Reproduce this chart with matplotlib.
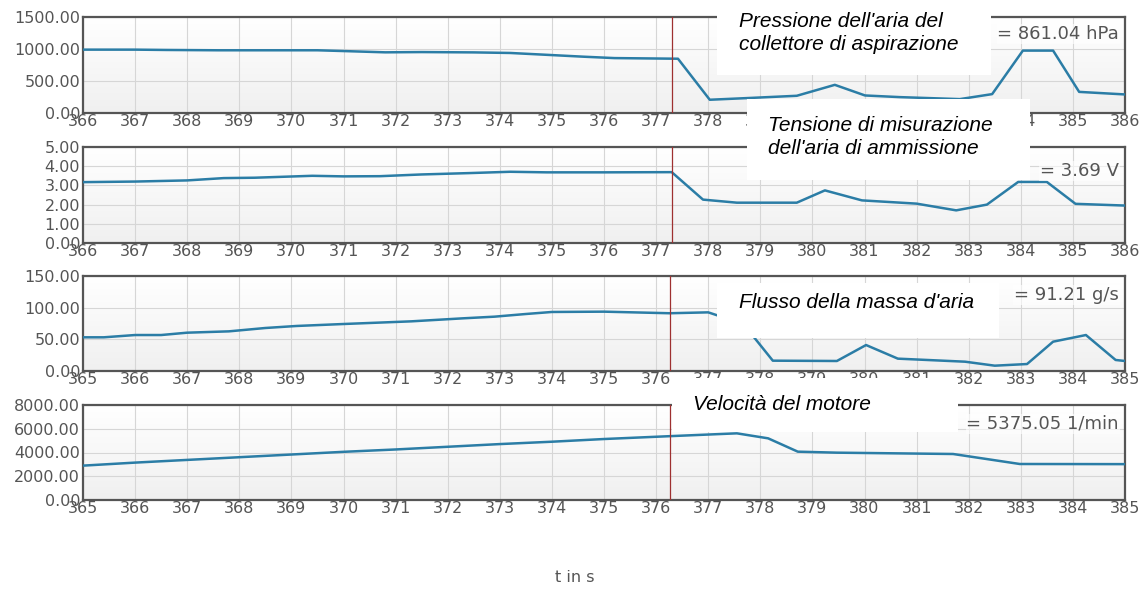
import numpy as np
import matplotlib
matplotlib.use('Agg')
import matplotlib.pyplot as plt
from matplotlib.patches import Rectangle
from matplotlib.colors import LinearSegmentedColormap

# pressione aria collettore (hPa)
t_press = [366.0, 367.0, 367.6, 368.6, 370.5, 371.0, 371.8, 372.5, 373.5, 374.2, 375.0, 375.6, 376.2,
           377.42, 378.03, 378.8, 379.70, 380.43, 381.01, 381.68, 382.83, 383.45, 384.04, 384.62, 385.12, 386.0]
press = [990, 990, 985, 980, 980, 968, 948, 952, 947, 938, 905, 880, 858,
         848, 207, 235, 269, 440, 274, 248, 217, 295, 975, 975, 330, 290]

# tensione misurazione aria (V)
t_volt = [366.0, 367.0, 368.0, 368.7, 369.3, 370.4, 371.0, 371.7, 372.5, 373.4, 374.2, 374.9, 376.0,
          377.3, 377.9, 378.55, 379.7, 380.24, 380.95, 382.0, 382.76, 383.35, 383.95, 384.5, 385.05, 386.0]
volt = [3.17, 3.20, 3.26, 3.38, 3.40, 3.50, 3.47, 3.48, 3.57, 3.64, 3.71, 3.68, 3.68,
        3.69, 2.26, 2.10, 2.10, 2.74, 2.22, 2.05, 1.70, 2.00, 3.18, 3.18, 2.04, 1.95]

# flusso massa d'aria (g/s)
t_flow = [365.0, 365.4, 366.0, 366.5, 367.0, 367.8, 368.5, 369.1, 370.0, 371.3, 372.3, 372.9, 373.5, 374.0,
          375.0, 376.26, 377.0, 377.17, 377.55, 378.24, 379.47, 380.03, 380.64, 381.93, 382.5, 383.12,
          383.62, 384.25, 384.82, 385.0]
flow = [53.2, 53.2, 56.8, 56.8, 60.5, 62.6, 67.9, 71.1, 74.2, 78.4, 83.2, 85.8, 90.0, 93.2,
        93.7, 91.2, 92.6, 88.0, 87.0, 16.3, 15.8, 41.0, 19.5, 14.7, 8.4, 11.0,
        46.3, 56.8, 17.4, 15.8]

# velocita motore (1/min)
t_rpm = [365, 366, 367, 368, 369, 370, 371, 372, 373, 374, 375, 376.26, 377.55, 378.15, 378.72,
         379.47, 381.7, 382.47, 382.98, 385.0]
rpm = [2894, 3149, 3376, 3603, 3830, 4057, 4255, 4482, 4709, 4908, 5135, 5375, 5614, 5193, 4070,
       3986, 3874, 3368, 3032, 3020]

titles = ["Pressione dell'aria del\ncollettore di aspirazione",
          "Tensione di misurazione\ndell'aria di ammissione",
          "Flusso della massa d'aria",
          "Velocità del motore"]
readouts = ["= 861.04 hPa", "= 3.69 V", "= 91.21 g/s", "= 5375.05 1/min"]
cursors = [377.3, 377.3, 376.26, 376.26]
xstarts = [366, 366, 365, 365]
ymaxs = [1500, 5, 150, 8000]
ysteps = [500, 1, 50, 2000]

W, H = 1147, 596
fig = plt.figure(figsize=(W / 100, H / 100), dpi=100)

def fx(px):
    return px / W

def fy(py):
    return 1 - py / H

panel_px = [(17, 113), (147, 243), (276, 371), (405, 500)]
readout_y = [34, 171, 295, 424]
series = [(t_press, press), (t_volt, volt), (t_flow, flow), (t_rpm, rpm)]

bg = LinearSegmentedColormap.from_list('bg', ['#ffffff', '#f0f0f0'])
grad = np.linspace(0, 1, 100).reshape(-1, 1)

x_left, x_right = 83, 1125
for i in range(4):
    top, bot = panel_px[i]
    ax = fig.add_axes([fx(x_left), fy(bot), fx(x_right - x_left), (bot - top) / H])
    ax.imshow(grad, extent=[0, 1, 0, 1], transform=ax.transAxes, cmap=bg, aspect='auto', zorder=0)
    t, v = series[i]
    ax.plot(t, v, color='#2b7da6', lw=1.8, zorder=3, solid_joinstyle='round')
    ax.axvline(cursors[i], color='#9e3030', lw=0.9, zorder=4)
    x0 = xstarts[i]
    ax.set_xlim(x0, x0 + 20)
    ax.set_ylim(0, ymaxs[i])
    ax.set_xticks(range(x0, x0 + 21))
    ax.set_yticks(np.arange(0, ymaxs[i] + ysteps[i] / 2, ysteps[i]))
    ax.yaxis.set_major_formatter(plt.FormatStrFormatter('%.2f'))
    ax.grid(True, color='#d6d6d6', lw=0.8, zorder=1)
    ax.set_axisbelow(True)
    ax.tick_params(length=0, labelsize=11.5, colors='#555555', pad=2)
    ax.tick_params(axis='x', pad=1)
    for s in ax.spines.values():
        s.set_color('#555555')
        s.set_linewidth(1.6)
    ax.set_aspect('auto')
    # readout at the cursor
    fig.text(fx(1119), fy(readout_y[i]), readouts[i], fontsize=13, color='#555555',
             ha='right', va='center', zorder=5,
             bbox=dict(facecolor='white', edgecolor='none', alpha=0.6, pad=0.5))

# white label boxes covering the chart
boxes = [(717, 0, 991, 75), (747, 99, 1030, 180), (717, 283, 999, 338), (672, 378, 958, 432)]
text_pos = [(739, 33), (768, 137), (739, 302), (693, 405)]
for i in range(4):
    x1, y1, x2, y2 = boxes[i]
    fig.patches.append(Rectangle((fx(x1), fy(y2)), fx(x2 - x1), (y2 - y1) / H,
                                 transform=fig.transFigure, facecolor='white', edgecolor='none', zorder=10))
    fig.text(fx(text_pos[i][0]), fy(text_pos[i][1]), titles[i], fontsize=15, style='italic',
             family='Liberation Sans', color='black', ha='left', va='center', zorder=11,
             linespacing=1.3)

fig.text(fx(575), fy(577), 't in s', fontsize=11.5, color='#555555', ha='center', va='center')

plt.savefig('out.png', dpi=100)
